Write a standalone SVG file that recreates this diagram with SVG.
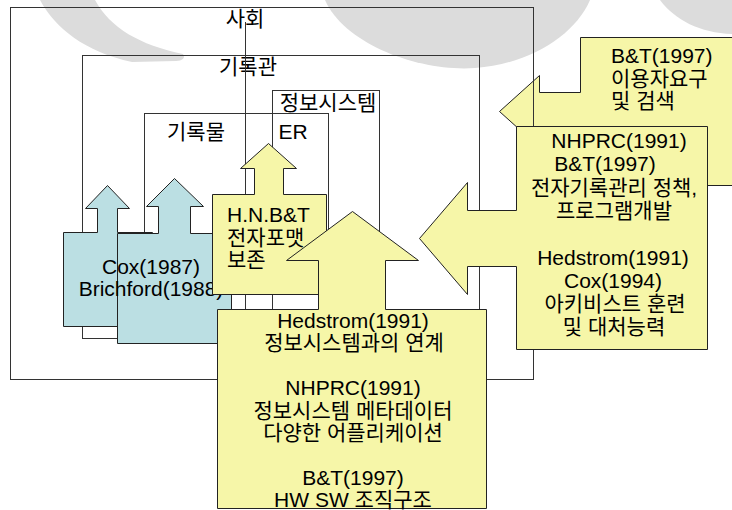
<svg xmlns="http://www.w3.org/2000/svg" width="732" height="510" viewBox="0 0 732 510">
<style>
text{font-family:"Liberation Sans","Noto Sans CJK KR",sans-serif;font-size:21px;fill:#000}
.c{text-anchor:middle}
.frame{fill:none;stroke:#333;stroke-width:1}
.wm{fill:#dcdcdc}
.cy{fill:#bbdfe3;stroke:#222;stroke-width:1}
.ye{fill:#f6f6a8;stroke:#222;stroke-width:1}
</style>
<g id="watermark">
<path class="wm" d="M40 0 L95 0 C110 28 140 45 183 54 C186 58 182 61 176 61 L132 62 C85 52 55 28 40 0 Z"/>
<path class="wm" d="M325 0 C345 45 420 72 475 68 C530 64 575 35 590 0 Z"/>
<path class="wm" d="M660 0 C675 20 700 33 732 34 L732 0 Z"/>
</g>
<g id="node-bt1997">
<polygon class="ye" points="580.5,37.5 740,37.5 740,185.5 580.5,185.5 580.5,130.5 539.5,130.5 539.5,147.5 499.5,111.5 539.5,75.5 539.5,92.5 580.5,92.5"/>
<text x="611" y="63">B&amp;T(1997)</text>
<text x="611" y="85.5">이용자요구</text>
<text x="611" y="108">및 검색</text>
</g>
<g id="node-society">
<rect class="frame" x="10.5" y="7.5" width="523" height="372"/>
<text class="c" x="245" y="26">사회</text>
</g>
<g id="node-archives">
<rect class="frame" x="82.5" y="55.5" width="397" height="283"/>
<text class="c" x="248" y="74">기록관</text>
</g>
<g id="node-infosystem">
<rect class="frame" x="272.5" y="90.5" width="107" height="250"/>
<text class="c" x="328" y="110">정보시스템</text>
</g>
<g id="node-records">
<rect class="frame" x="144.5" y="113.5" width="184" height="222" fill="#fff"/>
<text class="c" x="196" y="139">기록물</text>
<text class="c" x="293" y="139">ER</text>
</g>
<g id="divider">
<line class="frame" x1="245.5" y1="22" x2="245.5" y2="335.5"/>
</g>
<g id="node-cox">
<polygon class="cy" points="63.5,232.5 97.5,232.5 97.5,208.5 85.5,208.5 107.5,185.5 129.5,208.5 117.5,208.5 117.5,232.5 152.5,232.5 152.5,326.5 63.5,326.5"/>
<polygon class="cy" points="117.5,233.5 158.5,233.5 158.5,206.5 146.5,206.5 174.5,178.5 203.5,206.5 190.5,206.5 190.5,233.5 231.5,233.5 231.5,343.5 117.5,343.5"/>
<text class="c" x="151" y="274">Cox(1987)</text>
<text class="c" x="151" y="296">Brichford(1988)</text>
</g>
<g id="node-hnbt">
<polygon class="ye" points="212.5,194.5 254.5,194.5 254.5,168.5 240.5,168.5 268.5,143.5 296.5,168.5 283.5,168.5 283.5,194.5 326.5,194.5 326.5,294.5 212.5,294.5"/>
<text x="227" y="222">H.N.B&amp;T</text>
<text x="227" y="244.5">전자포맷</text>
<text x="227" y="267">보존</text>
</g>
<g id="node-hedstrom">
<polygon class="ye" points="217.5,309.5 318.5,309.5 318.5,260.5 286.5,260.5 352.5,211.5 418.5,260.5 385.5,260.5 385.5,309.5 486.5,309.5 486.5,508.5 217.5,508.5"/>
<text class="c" x="353" y="327.5">Hedstrom(1991)</text>
<text class="c" x="354" y="350">정보시스템과의 연계</text>
<text class="c" x="353" y="395">NHPRC(1991)</text>
<text class="c" x="353" y="417.5">정보시스템 메타데이터</text>
<text class="c" x="353" y="440">다양한 어플리케이션</text>
<text class="c" x="353" y="485">B&amp;T(1997)</text>
<text class="c" x="353" y="507">HW SW 조직구조</text>
</g>
<g id="node-nhprc">
<polygon class="ye" points="516.5,126.5 707.5,126.5 707.5,349.5 516.5,349.5 516.5,266.5 467.5,266.5 467.5,294.5 419.5,238.5 467.5,182.5 467.5,210.5 516.5,210.5"/>
<text class="c" x="619" y="148">NHPRC(1991)</text>
<text class="c" x="605" y="171.3">B&amp;T(1997)</text>
<text class="c" x="614" y="194.6">전자기록관리 정책,</text>
<text class="c" x="614" y="217.9">프로그램개발</text>
<text class="c" x="613" y="265">Hedstrom(1991)</text>
<text class="c" x="613" y="288">Cox(1994)</text>
<text class="c" x="615" y="311.1">아키비스트 훈련</text>
<text class="c" x="614" y="334.4">및 대처능력</text>
</g>
</svg>
